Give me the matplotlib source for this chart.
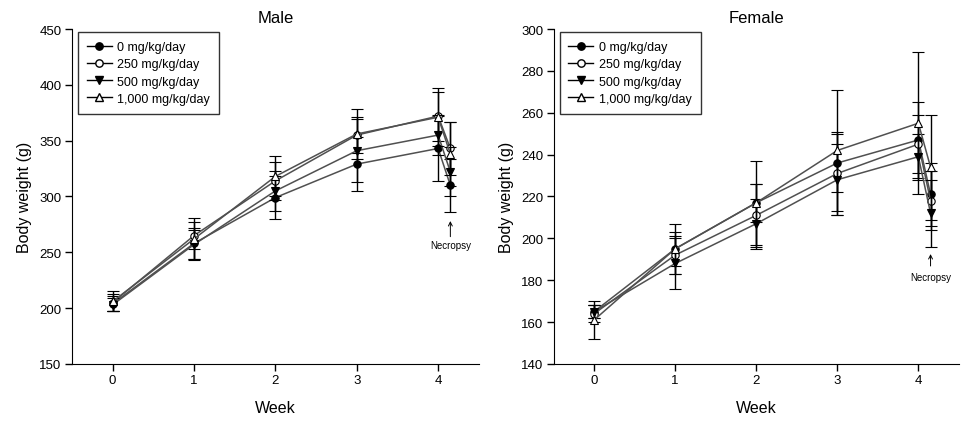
import matplotlib
matplotlib.use("Agg")
from matplotlib import pyplot as plt

plt.rcParams['font.family'] = ['Liberation Sans', 'DejaVu Sans']

# weeks; last point is the necropsy day, drawn just right of week 4
weeks = [0, 1, 2, 3, 4, 4.15]
groups = ["0 mg/kg/day", "250 mg/kg/day", "500 mg/kg/day", "1,000 mg/kg/day"]

# male body weight (g), mean and SD
male_0 = [204, 258, 299, 329, 343, 310]
male_250 = [205, 265, 314, 355, 372, 343]
male_500 = [203, 257, 305, 341, 355, 322]
male_1000 = [206, 262, 318, 356, 371, 338]
male_0_sd = [7, 14, 19, 24, 29, 24]
male_250_sd = [8, 12, 17, 16, 22, 24]
male_500_sd = [6, 13, 18, 28, 18, 22]
male_1000_sd = [9, 19, 18, 22, 26, 29]

# female body weight (g), mean and SD
female_0 = [165, 195, 217, 236, 247, 221]
female_250 = [164, 192, 211, 231, 245, 218]
female_500 = [165, 188, 207, 228, 239, 212]
female_1000 = [161, 195, 217, 242, 255, 234]
female_0_sd = [3, 8, 9, 14, 18, 15]
female_250_sd = [4, 9, 15, 20, 14, 14]
female_500_sd = [3, 12, 12, 17, 11, 16]
female_1000_sd = [9, 12, 20, 29, 34, 25]

markers = ['o', 'o', 'v', '^']
faces = ['black', 'white', 'black', 'white']


def drawPanel(ax, means, sds, title, ylim, yticks, label_y):
    for i in range(len(means)):
        ax.errorbar(weeks, means[i], yerr=sds[i], color='#505050', lw=1.1,
                    ecolor='black', elinewidth=1, capsize=4.5, capthick=1,
                    marker=markers[i], markersize=5.3, markerfacecolor=faces[i],
                    markeredgecolor='black', markeredgewidth=0.8, zorder=3 + i)
    ax.set_xlim(-0.5, 4.5)
    ax.set_ylim(ylim)
    ax.set_xticks([0, 1, 2, 3, 4])
    ax.set_yticks(yticks)
    ax.spines['top'].set_visible(False)
    ax.spines['right'].set_visible(False)
    ax.tick_params(direction='out', length=5, width=1, labelsize=9.5, pad=2.5)
    ax.set_title(title, fontsize=12, pad=5)
    ax.set_xlabel("Week", fontsize=11.5, labelpad=10)
    ax.set_ylabel("Body weight (g)", fontsize=11.5, labelpad=5)

    # legend with plain black line handles
    handles = []
    for i in range(len(groups)):
        h, = ax.plot([], [], color='black', lw=1, marker=markers[i],
                     markersize=5.3, markerfacecolor=faces[i], markeredgecolor='black')
        handles.append(h)
    leg = ax.legend(handles, groups, loc='upper left', bbox_to_anchor=(0.015, 0.99),
                    borderaxespad=0, frameon=True, fancybox=False, fontsize=9,
                    handlelength=2.0, handletextpad=0.45, labelspacing=0.42,
                    borderpad=0.7)
    leg.get_frame().set_edgecolor('black')
    leg.get_frame().set_linewidth(1)

    ax.annotate("", xy=(4.15, label_y[0]), xytext=(4.15, label_y[1]),
                arrowprops=dict(arrowstyle='->', color='black', lw=0.7,
                                mutation_scale=7, shrinkA=0, shrinkB=0))
    ax.text(4.15, label_y[2], "Necropsy", fontsize=7, ha='center', va='top')


fig = plt.figure(figsize=(9.78, 4.35), dpi=100)
ax1 = fig.add_axes([0.0736, 0.161, 0.416, 0.770])
ax2 = fig.add_axes([0.566, 0.161, 0.4145, 0.770])

drawPanel(ax1, [male_0, male_250, male_500, male_1000],
          [male_0_sd, male_250_sd, male_500_sd, male_1000_sd],
          "Male", (150, 450), range(150, 451, 50), (278, 264, 261))
drawPanel(ax2, [female_0, female_250, female_500, female_1000],
          [female_0_sd, female_250_sd, female_500_sd, female_1000_sd],
          "Female", (140, 300), range(140, 301, 20), (192.5, 186.8, 184))

plt.savefig("out.png", dpi=100)
